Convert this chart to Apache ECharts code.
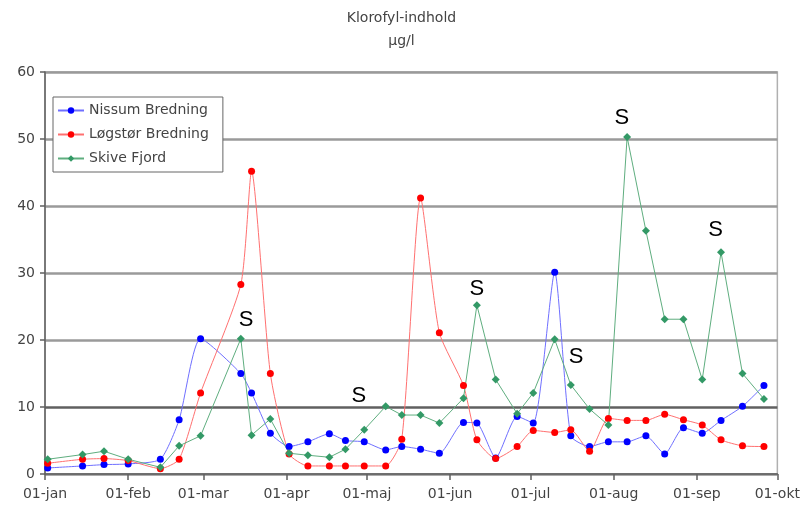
<!DOCTYPE html>
<html>
<head>
<meta charset="utf-8">
<script src="https://cdn.jsdelivr.net/npm/echarts@6/dist/echarts.min.js"></script>
<style>
  html, body { margin: 0; padding: 0; background: #ffffff; }
  #chart { width: 803px; height: 510px; }
</style>
</head>
<body>
<div id="chart"></div>
<script>
// ---- data ----
const monthNames = ['jan','feb','mar','apr','maj','jun','jul','aug','sep','okt','nov','dec'];
const sampleDates = ['2005-01-02','2005-01-15','2005-01-23','2005-02-01','2005-02-13','2005-02-20','2005-02-28',
  '2005-03-15','2005-03-19','2005-03-26','2005-04-02','2005-04-09','2005-04-17','2005-04-23','2005-04-30',
  '2005-05-08','2005-05-14','2005-05-21','2005-05-28','2005-06-06','2005-06-11','2005-06-18','2005-06-26',
  '2005-07-02','2005-07-10','2005-07-16','2005-07-23','2005-07-30','2005-08-06','2005-08-13','2005-08-20',
  '2005-08-27','2005-09-03','2005-09-10','2005-09-18','2005-09-26'];
const nissum = [0.9,1.2,1.4,1.5,2.2,8.1,20.2,15.0,12.1,6.1,4.1,4.8,6.0,5.0,4.8,3.6,4.1,3.7,3.1,7.7,7.6,2.4,8.6,7.6,30.1,5.7,4.1,4.8,4.8,5.7,3.0,6.9,6.1,8.0,10.1,13.2];
const logstor = [1.6,2.2,2.3,2.0,0.8,2.2,12.1,28.3,45.2,15.0,3.0,1.2,1.2,1.2,1.2,1.2,5.2,41.2,21.1,13.2,5.1,2.3,4.1,6.5,6.2,6.6,3.4,8.3,8.0,8.0,8.9,8.1,7.3,5.1,4.2,4.1];
const skive = [2.2,2.9,3.4,2.2,1.0,4.2,5.7,20.2,5.8,8.2,3.1,2.8,2.5,3.7,6.6,10.1,8.8,8.8,7.6,11.3,25.2,14.1,9.0,12.1,20.1,13.3,9.7,7.3,50.3,36.3,23.1,23.1,14.1,33.1,15.0,11.2];
const seriesNames = ['Nissum Bredning','Løgstør Bredning','Skive Fjord'];
// "S" annotations (data coordinates)
const sDates = ['2005-03-17','2005-04-28','2005-06-11','2005-07-18','2005-08-04','2005-09-08'];
const sValues = [23.0, 11.6, 27.6, 17.4, 53.2, 36.4];
const yMin = 0, yMax = 60, yStep = 10;

const FONT = 'DejaVu Sans';
const pair = (vals) => sampleDates.map((d, i) => [d, vals[i]]);

const chart = echarts.init(document.getElementById('chart'), null, { renderer: 'canvas' });
const DAY = 86400000;

function lineSeries(name, vals, lineColor, markColor, symbol, size, smooth, extra) {
  return Object.assign({
    name: name,
    type: 'line',
    data: pair(vals),
    smooth: smooth,
    symbol: symbol,
    symbolSize: size,
    showAllSymbol: true,
    lineStyle: { color: lineColor, width: 1 },
    itemStyle: { color: markColor, borderWidth: 0 },
    emphasis: { disabled: true }
  }, extra || {});
}

const option = {
  animation: false,
  backgroundColor: '#ffffff',
  textStyle: { fontFamily: FONT },
  title: {
    text: 'Klorofyl-indhold\nµg/l',
    left: 'center',
    top: 2,
    textStyle: { fontFamily: FONT, fontSize: 14, fontWeight: 'normal', color: '#444', lineHeight: 23 }
  },
  legend: {
    orient: 'vertical',
    left: 53,
    top: 97,
    padding: [6, 14, 6, 4],
    itemGap: 9,
    itemWidth: 26,
    itemHeight: 8,
    backgroundColor: '#ffffff',
    borderColor: '#666',
    borderWidth: 1,
    textStyle: { fontFamily: FONT, fontSize: 14, color: '#444', lineHeight: 15 },
    data: seriesNames
  },
  grid: {
    left: 45, right: 23, top: 72, bottom: 36,
    show: true, borderColor: '#b0b0b0', borderWidth: 1.5, backgroundColor: '#ffffff'
  },
  xAxis: {
    type: 'time',
    min: '2005-01-01',
    max: '2005-10-01',
    splitNumber: 9,
    minInterval: 28 * DAY,
    maxInterval: 32 * DAY,
    axisLine: { lineStyle: { color: '#606060', width: 1.5 } },
    axisTick: { show: true, length: 6, lineStyle: { color: '#606060', width: 1.5 } },
    splitLine: { show: false },
    axisLabel: {
      margin: 13,
      showMinLabel: true,
      showMaxLabel: true,
      hideOverlap: false,
      fontFamily: FONT, fontSize: 14, color: '#444',
      formatter: function (val) {
        const d = new Date(val);
        return ('0' + d.getDate()).slice(-2) + '-' + monthNames[d.getMonth()];
      }
    }
  },
  yAxis: {
    type: 'value',
    min: yMin, max: yMax, interval: yStep,
    axisLine: { show: true, lineStyle: { color: '#606060', width: 1.5 } },
    axisTick: { show: true, length: 5, lineStyle: { color: '#606060', width: 1.5 } },
    axisLabel: { margin: 10, fontFamily: FONT, fontSize: 14, color: '#444' },
    splitLine: { show: true, lineStyle: { color: ['#909090','#606060','#9a9a9a','#9a9a9a','#9a9a9a','#9a9a9a','#9a9a9a'], width: 2.5 } }
  },
  series: [
    lineSeries(seriesNames[0], nissum, '#6f6fff', '#0000ff', 'circle', 7, 0.2),
    lineSeries(seriesNames[1], logstor, '#ff7070', '#ff0000', 'circle', 7, 0.2),
    lineSeries(seriesNames[2], skive, '#5fae7f', '#339966', 'diamond', 8, false, {
      markPoint: {
        symbol: 'circle',
        symbolSize: 1,
        itemStyle: { color: 'rgba(0,0,0,0)' },
        label: { show: true, position: 'inside', formatter: 'S', color: '#000', fontSize: 22, fontFamily: 'Liberation Sans' },
        data: sDates.map((d, i) => ({ coord: [d, sValues[i]] }))
      }
    })
  ]
};
chart.setOption(option);
</script>
</body>
</html>
